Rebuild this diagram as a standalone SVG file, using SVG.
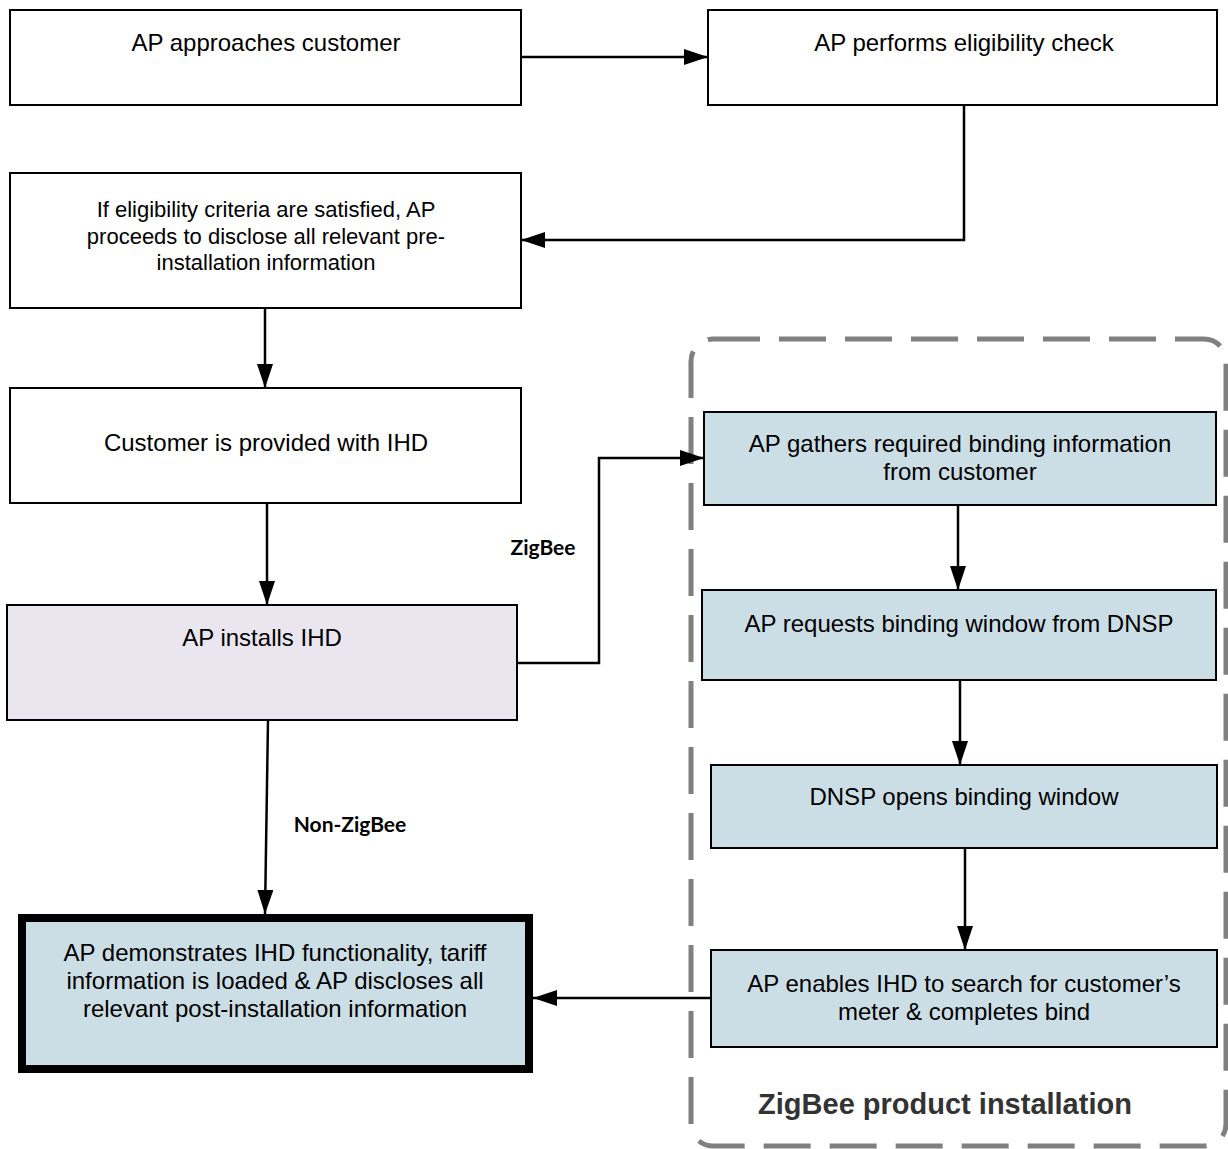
<svg xmlns="http://www.w3.org/2000/svg" width="1228" height="1149" viewBox="0 0 1228 1149">
<defs>
<style>
.box{fill:#fff;stroke:#000;stroke-width:2}
.blue{fill:#CCDEE5;stroke:#000;stroke-width:2}
.lav{fill:#E9E6F0;stroke:#000;stroke-width:2}
.t{font-family:"Liberation Sans",Arial,sans-serif;font-size:24px;fill:#000;text-anchor:middle}
.t3{font-size:22px}
.lbl{font-family:Lato,"Open Sans",sans-serif;font-weight:bold;font-size:21px;fill:#000;text-anchor:middle}
.conn{fill:none;stroke:#000;stroke-width:2.5}
</style>
<marker id="ah" viewBox="0 0 24 16" refX="24" refY="8" markerWidth="24" markerHeight="16" markerUnits="userSpaceOnUse" orient="auto">
<path d="M0,0 L24,8 L0,16 Z" fill="#000"/>
</marker>
</defs>
<rect width="1228" height="1149" fill="#fff"/>
<g id="zigbee-group">
<rect x="691" y="339" width="535" height="807" rx="22" fill="none" stroke="#808080" stroke-width="5" stroke-dasharray="47 19"/>
<text x="945" y="1114" font-family="'Liberation Sans',Arial,sans-serif" font-weight="bold" font-size="29" fill="#333" text-anchor="middle">ZigBee product installation</text>
</g>
<g id="connectors">
<line class="conn" x1="521" y1="57" x2="708" y2="57" marker-end="url(#ah)"/>
<polyline class="conn" points="964,105 964,240 521,240" marker-end="url(#ah)"/>
<line class="conn" x1="265" y1="308" x2="265" y2="388" marker-end="url(#ah)"/>
<line class="conn" x1="267" y1="503" x2="267" y2="605" marker-end="url(#ah)"/>
<polyline class="conn" points="517,663 599,663 599,458 704,458" marker-end="url(#ah)" stroke-width="2"/>
<line class="conn" x1="268" y1="720" x2="265" y2="914" marker-end="url(#ah)"/>
<line class="conn" x1="958" y1="505" x2="958" y2="590" marker-end="url(#ah)"/>
<line class="conn" x1="960" y1="680" x2="960" y2="765" marker-end="url(#ah)"/>
<line class="conn" x1="965" y1="848" x2="965" y2="950" marker-end="url(#ah)"/>
<line class="conn" x1="711" y1="998" x2="533" y2="998" marker-end="url(#ah)" stroke-width="2"/>
<text class="lbl" x="543" y="555">ZigBee</text>
<text class="lbl" x="350" y="832">Non-ZigBee</text>
</g>
<g id="n1"><rect class="box" x="10" y="10" width="511" height="95"/><text class="t" x="266" y="51">AP approaches customer</text></g>
<g id="n2"><rect class="box" x="708" y="10" width="509" height="95"/><text class="t" x="964" y="51">AP performs eligibility check</text></g>
<g id="n3"><rect class="box" x="10" y="173" width="511" height="135"/>
<text class="t t3" x="266" y="217">If eligibility criteria are satisfied, AP</text>
<text class="t t3" x="266" y="244">proceeds to disclose all relevant pre-</text>
<text class="t t3" x="266" y="270">installation information</text></g>
<g id="n4"><rect class="box" x="10" y="388" width="511" height="115"/><text class="t" x="266" y="451">Customer is provided with IHD</text></g>
<g id="n5"><rect class="lav" x="7" y="605" width="510" height="115"/><text class="t" x="262" y="646">AP installs IHD</text></g>
<g id="n6"><rect class="blue" x="704" y="412" width="512" height="93"/>
<text class="t" x="960" y="452">AP gathers required binding information</text>
<text class="t" x="960" y="480">from customer</text></g>
<g id="n7"><rect class="blue" x="702" y="590" width="514" height="90"/><text class="t" x="959" y="632">AP requests binding window from DNSP</text></g>
<g id="n8"><rect class="blue" x="711" y="765" width="506" height="83"/><text class="t" x="964" y="805">DNSP opens binding window</text></g>
<g id="n9"><rect class="blue" x="711" y="950" width="506" height="97"/>
<text class="t" x="964" y="992">AP enables IHD to search for customer’s</text>
<text class="t" x="964" y="1020">meter &amp; completes bind</text></g>
<g id="n10"><rect x="22" y="918" width="507" height="151" fill="#CCDEE5" stroke="#000" stroke-width="8"/>
<text class="t" x="275" y="961">AP demonstrates IHD functionality, tariff</text>
<text class="t" x="275" y="989">information is loaded &amp; AP discloses all</text>
<text class="t" x="275" y="1017">relevant post-installation information</text></g>
</svg>
